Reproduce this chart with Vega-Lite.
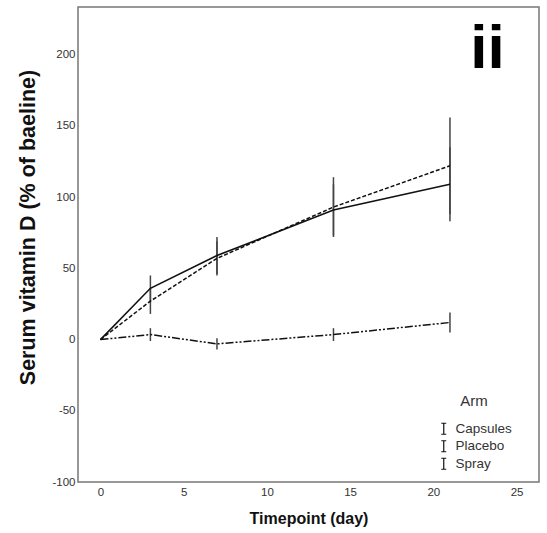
{
  "$schema": "https://vega.github.io/schema/vega-lite/v6.json",
  "autosize": {"type": "none"},
  "width": 461,
  "height": 475,
  "padding": {"left": 78, "top": 7, "right": 8, "bottom": 51},
  "background": "white",
  "config": {
    "view": {"stroke": "#777", "strokeWidth": 1.5},
    "font": "Liberation Sans"
  },
  "datasets": {
    "means": [
      {"Arm": "Capsules", "day": 0, "value": 0},
      {"Arm": "Capsules", "day": 3, "value": 36},
      {"Arm": "Capsules", "day": 7, "value": 59},
      {"Arm": "Capsules", "day": 14, "value": 91},
      {"Arm": "Capsules", "day": 21, "value": 109},
      {"Arm": "Placebo", "day": 0, "value": 0},
      {"Arm": "Placebo", "day": 3, "value": 3.5},
      {"Arm": "Placebo", "day": 7, "value": -3},
      {"Arm": "Placebo", "day": 14, "value": 3.5},
      {"Arm": "Placebo", "day": 21, "value": 12},
      {"Arm": "Spray", "day": 0, "value": 0},
      {"Arm": "Spray", "day": 3, "value": 27},
      {"Arm": "Spray", "day": 7, "value": 57},
      {"Arm": "Spray", "day": 14, "value": 93},
      {"Arm": "Spray", "day": 21, "value": 122}
    ],
    "errors": [
      {"Arm": "Capsules", "day": 3, "lo": 27, "hi": 45},
      {"Arm": "Capsules", "day": 7, "lo": 46, "hi": 72},
      {"Arm": "Capsules", "day": 14, "lo": 73, "hi": 109},
      {"Arm": "Capsules", "day": 21, "lo": 83, "hi": 135},
      {"Arm": "Placebo", "day": 3, "lo": -1, "hi": 8},
      {"Arm": "Placebo", "day": 7, "lo": -7, "hi": 1},
      {"Arm": "Placebo", "day": 14, "lo": -1, "hi": 8},
      {"Arm": "Placebo", "day": 21, "lo": 5, "hi": 19},
      {"Arm": "Spray", "day": 3, "lo": 18, "hi": 36},
      {"Arm": "Spray", "day": 7, "lo": 45, "hi": 69},
      {"Arm": "Spray", "day": 14, "lo": 72, "hi": 114},
      {"Arm": "Spray", "day": 21, "lo": 88, "hi": 156}
    ],
    "panel": [
      {"label": "ii", "day": 23.26, "value": 191}
    ]
  },
  "encoding": {
    "x": {
      "field": "day", "type": "quantitative",
      "scale": {"domain": [-1.35, 26.35], "nice": false, "zero": false},
      "axis": {
        "title": "Timepoint (day)", "values": [0, 5, 10, 15, 20, 25],
        "domain": false, "ticks": false, "grid": false,
        "labelFontSize": 11.5, "labelColor": "#333", "labelPadding": 4,
        "titleFontSize": 16, "titleFontWeight": "bold", "titleColor": "#111", "titlePadding": 13
      }
    },
    "y": {
      "field": "value", "type": "quantitative",
      "scale": {"domain": [-100, 233.5], "nice": false, "zero": false},
      "axis": {
        "title": "Serum vitamin D (% of baeline)", "values": [-100, -50, 0, 50, 100, 150, 200],
        "labelExpr": "replace(datum.label, '−', '-')",
        "domain": false, "ticks": false, "grid": false,
        "labelFontSize": 11.5, "labelColor": "#333", "labelPadding": 3,
        "titleFontSize": 21.5, "titleFontWeight": "bold", "titleColor": "#111",
        "titleX": -50, "titleY": 220, "titleBaseline": "middle", "titleAlign": "center", "titleAngle": -90
      }
    }
  },
  "layer": [
    {
      "data": {"name": "errors"},
      "mark": {"type": "rule", "color": "#444", "strokeWidth": 1.5},
      "encoding": {
        "y": {"field": "lo", "type": "quantitative"},
        "y2": {"field": "hi"}
      }
    },
    {
      "data": {"name": "means"},
      "transform": [{"filter": "datum.Arm === 'Capsules'"}],
      "mark": {"type": "line", "strokeWidth": 1.6},
      "encoding": {
        "color": {
          "field": "Arm", "type": "nominal",
          "scale": {"domain": ["Capsules", "Placebo", "Spray"], "range": ["#111", "#111", "#111"]},
          "legend": {
            "orient": "none", "legendX": 359, "legendY": 387,
            "title": "Arm", "titleFontSize": 15, "titleFontWeight": "normal", "titleColor": "#333",
            "titleAnchor": "middle", "titlePadding": 13,
            "labelFontSize": 13.5, "labelColor": "#333", "labelOffset": 5,
            "symbolType": "M-0.45,-1H0.45M0,-1V1M-0.45,1H0.45",
            "symbolSize": 121, "symbolStrokeWidth": 1.2, "symbolStrokeColor": "#333", "symbolDash": [1, 0],
            "rowPadding": 0.5, "padding": 0
          }
        }
      }
    },
    {
      "data": {"name": "means"},
      "transform": [{"filter": "datum.Arm === 'Placebo'"}],
      "mark": {"type": "line", "strokeWidth": 1.5, "strokeDash": [8, 2, 2, 2, 2, 2]},
      "encoding": {
        "color": {"field": "Arm", "type": "nominal"}
      }
    },
    {
      "data": {"name": "means"},
      "transform": [{"filter": "datum.Arm === 'Spray'"}],
      "mark": {"type": "line", "strokeWidth": 1.5, "strokeDash": [4, 2]},
      "encoding": {
        "color": {"field": "Arm", "type": "nominal"}
      }
    },
    {
      "data": {"name": "panel"},
      "mark": {"type": "text", "fontSize": 62, "fontWeight": "bold", "font": "Liberation Sans", "color": "black", "align": "center", "baseline": "alphabetic"},
      "encoding": {
        "text": {"field": "label"}
      }
    }
  ]
}
